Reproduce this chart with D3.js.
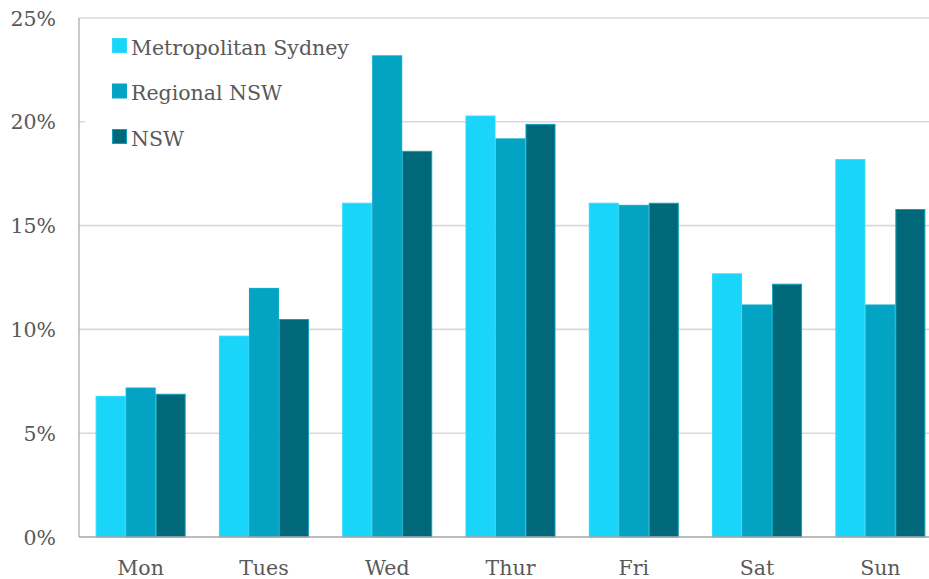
<!DOCTYPE html>
<html>
<head>
<meta charset="utf-8">
<script src="https://cdn.jsdelivr.net/npm/d3@7"></script>
<style>
  html, body { margin: 0; padding: 0; background: #fff; }
  svg { display: block; }
  text { font-family: "DejaVu Serif", serif; fill: #595959; }
</style>
</head>
<body>
<svg id="chart" width="929" height="579"></svg>
<script>
const categories = ["Mon", "Tues", "Wed", "Thur", "Fri", "Sat", "Sun"];
const seriesNames = ["Metropolitan Sydney", "Regional NSW", "NSW"];
const metroSydney = [6.8, 9.7, 16.1, 20.3, 16.1, 12.7, 18.2];
const regionalNSW = [7.2, 12.0, 23.2, 19.2, 16.0, 11.2, 11.2];
const nswTotal    = [6.9, 10.5, 18.6, 19.9, 16.1, 12.2, 15.8];
const yTicks = [0, 5, 10, 15, 20, 25];
const fills   = ["#1AD5FA", "#03A3C4", "#01687A"];
const strokes = ["#2ED9FA", "#0AA6C6", "#0DA0BC"];

const seriesValues = [metroSydney, regionalNSW, nswTotal];
const data = categories.map((c, i) => ({ cat: c, vals: seriesValues.map(s => s[i]) }));

const svg = d3.select("#chart");
const plotLeft = 79, plotRight = 942, plotTop = 18, plotBottom = 537;

const x = d3.scaleBand().domain(categories).range([plotLeft, plotRight]).paddingInner(0.27).paddingOuter(0.135);
const xs = d3.scaleBand().domain(d3.range(seriesNames.length)).range([0, x.bandwidth()]);
const y = d3.scaleLinear().domain([0, 25]).range([plotBottom, plotTop]);

// gridlines
svg.append("g").selectAll("line").data(yTicks.filter(t => t > 0)).join("line")
  .attr("x1", plotLeft).attr("x2", plotRight)
  .attr("y1", d => y(d)).attr("y2", d => y(d))
  .attr("stroke", "#D9D9D9").attr("stroke-width", 1.6);

// y labels
svg.append("g").selectAll("text").data(yTicks).join("text")
  .attr("x", 56).attr("y", d => y(d) + 7.5)
  .attr("text-anchor", "end").attr("font-size", 20.5)
  .text(d => d + "%");

// bars
const groups = svg.append("g").selectAll("g").data(data).join("g")
  .attr("transform", d => `translate(${x(d.cat)},0)`);
groups.selectAll("rect").data(d => d.vals.map((v, i) => ({ v, i }))).join("rect")
  .attr("x", d => xs(d.i) + 0.5)
  .attr("width", xs.bandwidth() - 1)
  .attr("y", d => y(d.v) + 0.5)
  .attr("height", d => y(0) - y(d.v) - 0.5)
  .attr("fill", d => fills[d.i])
  .attr("stroke", d => strokes[d.i])
  .attr("stroke-width", 1);

// axes lines
svg.append("line").attr("x1", plotLeft).attr("x2", plotLeft).attr("y1", plotTop).attr("y2", plotBottom)
  .attr("stroke", "#A6A6A6").attr("stroke-width", 1.2);
svg.append("line").attr("x1", plotLeft).attr("x2", plotRight).attr("y1", plotBottom).attr("y2", plotBottom)
  .attr("stroke", "#A6A6A6").attr("stroke-width", 1.6);

// x labels
svg.append("g").selectAll("text").data(categories).join("text")
  .attr("x", d => x(d) + x.bandwidth() / 2).attr("y", 575)
  .attr("text-anchor", "middle").attr("font-size", 20.5)
  .text(d => d);

// legend
const lg = svg.append("g");
lg.append("rect").attr("x", 85).attr("y", 19).attr("width", 287).attr("height", 139).attr("fill", "#fff");
const items = lg.selectAll("g").data(seriesNames).join("g")
  .attr("transform", (d, i) => `translate(112,${38 + i * 45.5})`);
items.append("rect").attr("x", 0.5).attr("y", 0.5).attr("width", 14).attr("height", 14)
  .attr("fill", (d, i) => fills[i]).attr("stroke", (d, i) => strokes[i]).attr("stroke-width", 1);
items.append("text").attr("x", 19).attr("y", 16.5).attr("font-size", 20.5).text(d => d);
</script>
</body>
</html>
